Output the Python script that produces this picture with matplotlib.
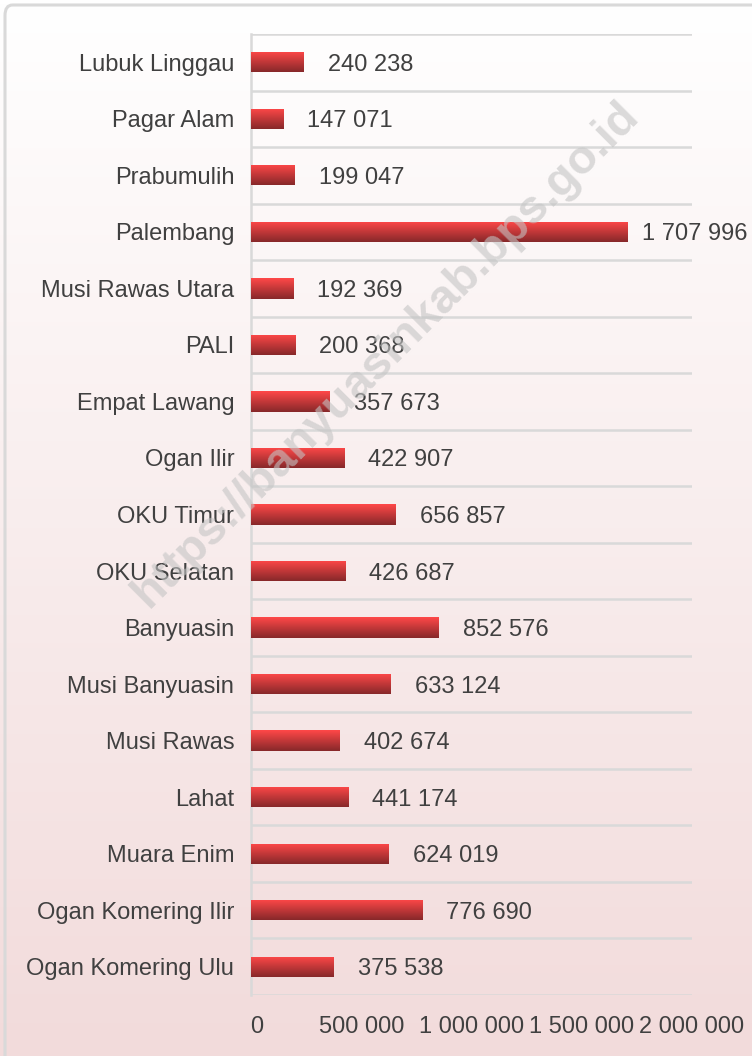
import numpy as np
import matplotlib
matplotlib.use("Agg")
import matplotlib.pyplot as plt
import matplotlib.transforms as mtransforms
from matplotlib.patches import FancyBboxPatch
from matplotlib.ticker import FuncFormatter, FixedLocator

plt.rcParams['font.family'] = ['Liberation Sans', 'DejaVu Sans']

# Data (bottom to top as drawn)
regions = ["Ogan Komering Ulu", "Ogan Komering Ilir", "Muara Enim", "Lahat",
           "Musi Rawas", "Musi Banyuasin", "Banyuasin", "OKU Selatan",
           "OKU Timur", "Ogan Ilir", "Empat Lawang", "PALI",
           "Musi Rawas Utara", "Palembang", "Prabumulih", "Pagar Alam",
           "Lubuk Linggau"]
population = [375538, 776690, 624019, 441174, 402674, 633124, 852576, 426687,
              656857, 422907, 357673, 200368, 192369, 1707996, 199047, 147071,
              240238]
x_ticks = [0, 500000, 1000000, 1500000, 2000000]

W, H = 752, 1056
fig = plt.figure(figsize=(W / 100, H / 100), dpi=100)

# background gradient (white -> pink)
bg = fig.add_axes([0, 0, 1, 1], zorder=-10)
bg.axis('off')
grad = np.linspace(0, 1, 256).reshape(-1, 1)
top = np.array([1.0, 1.0, 1.0])
bot = np.array([242, 219, 219]) / 255
img = top[None, None, :] * (1 - grad[:, :, None]) + bot[None, None, :] * grad[:, :, None]
bg.imshow(img, aspect='auto', extent=[0, 1, 0, 1], origin='upper')
bg.set_xlim(0, 1)
bg.set_ylim(0, 1)
border = FancyBboxPatch((5 / W, -0.05), 1.1, 1.05 - 5 / H,
                        boxstyle="round,pad=0,rounding_size=0.01",
                        transform=bg.transAxes, fill=False,
                        edgecolor='#d9d9d9', linewidth=2.2)
bg.add_patch(border)

# watermark
fig.text(0.513, 0.664, "https://banyuasinkab.bps.go.id", rotation=45,
         fontsize=34, fontweight='bold', color='#c4c4c4', alpha=0.6,
         ha='center', va='center', zorder=5)

ax = fig.add_axes([251 / W, 1 - 995 / H, (692 - 251) / W, (995 - 34) / H])
ax.set_facecolor('none')
ypos = np.arange(len(regions))
bars = ax.barh(ypos, population, height=0.36, color='#e83a3a', zorder=3)

# vertical gradient for each bar
bar_grad = np.linspace(0, 1, 64).reshape(-1, 1)
c_top = np.array([255, 72, 72]) / 255
c_bot = np.array([135, 40, 42]) / 255
bar_img = c_top[None, None, :] * (1 - bar_grad[:, :, None]) + c_bot[None, None, :] * bar_grad[:, :, None]
for b in bars:
    x0, y0 = b.get_x(), b.get_y()
    w, h = b.get_width(), b.get_height()
    im = ax.imshow(bar_img, aspect='auto', extent=[x0, x0 + w, y0, y0 + h],
                   origin='upper', zorder=4)
    im.set_clip_path(b)

ax.set_xlim(0, 2000000)
ax.set_ylim(-0.5, len(regions) - 0.5)

for b, v in zip(bars, population):
    ax.annotate(f"{v:,}".replace(",", " "),
                xy=(b.get_width(), b.get_y() + b.get_height() / 2),
                xytext=(48, 0), textcoords='offset points',
                ha='center', va='center_baseline', fontsize=17, color='#404040',
                zorder=6, annotation_clip=False)

ax.set_yticks(ypos)
ax.set_yticklabels(regions, va='center_baseline')
ax.yaxis.set_minor_locator(FixedLocator(np.arange(-0.5, len(regions), 1.0)))
ax.grid(True, which='minor', axis='y', color='#d9d9d9', linewidth=1.8, zorder=1)
ax.set_xticks(x_ticks)
ax.xaxis.set_major_formatter(FuncFormatter(lambda v, p: f"{int(v):,}".replace(",", " ")))
ax.tick_params(axis='y', which='both', length=0, pad=12, labelsize=17, labelcolor='#404040')
ax.tick_params(axis='x', which='both', length=0, pad=15, labelsize=17, labelcolor='#404040')
for s in ['top', 'right', 'bottom']:
    ax.spines[s].set_visible(False)
ax.spines['left'].set_color('#d9d9d9')
ax.spines['left'].set_linewidth(1.8)

# nudge the "0" tick label slightly right as in the original
lbl0 = ax.get_xticklabels()[0]
lbl0.set_transform(lbl0.get_transform() + mtransforms.ScaledTranslation(6 / 100, 0, fig.dpi_scale_trans))

fig.savefig("out.png", dpi=100)
